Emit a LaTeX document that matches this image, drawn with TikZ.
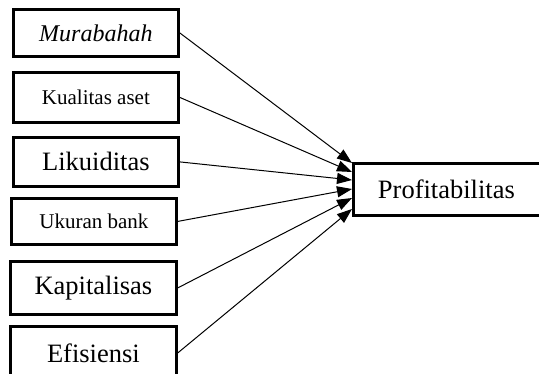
\documentclass[tikz,border=0pt]{standalone}
\usepackage{fontspec}
\setmainfont{Liberation Serif}
\usetikzlibrary{arrows.meta}
\begin{document}
\begin{tikzpicture}[x=1pt,y=-1pt,
  varbox/.style={draw,line width=2.8pt,rectangle,inner sep=0pt,anchor=north west},
  big/.style={font=\fontsize{26.5}{30}\selectfont},
  small/.style={font=\fontsize{21}{24}\selectfont},
  link/.style={line width=1pt,-{Triangle[length=15pt,width=11pt]}}]
\useasboundingbox (0,0) rectangle (539,373);
\node[varbox,minimum width=165pt,minimum height=47pt,font=\fontsize{24}{28}\selectfont\itshape] (m) at (12,8) {Murabahah};
\node[varbox,small,minimum width=165pt,minimum height=50pt] (k) at (12,71) {Kualitas aset};
\node[varbox,big,minimum width=165pt,minimum height=49pt] (l) at (12,136) {Likuiditas};
\node[varbox,small,minimum width=165pt,minimum height=46pt] (u) at (10,197) {Ukuran bank};
\node[varbox,big,minimum width=166pt,minimum height=53pt] (c) at (9,260) {Kapitalisas};
\node[varbox,big,minimum width=166pt,minimum height=53pt] (e) at (9,325) {Efisiensi};
\node[varbox,big,minimum width=200pt,minimum height=52pt] (p) at (352,162) {\hspace*{-14pt}Profitabilitas};
\coordinate (t1) at (352,163);
\coordinate (t2) at (352,172);
\coordinate (t3) at (352,180);
\coordinate (t4) at (352,189);
\coordinate (t5) at (352,198);
\coordinate (t6) at (352,209);
\draw[link] (m.east) -- (t1);
\draw[link] (k.east) -- (t2);
\draw[link] (l.east) -- (t3);
\draw[link] (u.east) -- (t4);
\draw[link] (c.east) -- (t5);
\draw[link] (e.east) -- (t6);
\end{tikzpicture}
\end{document}
